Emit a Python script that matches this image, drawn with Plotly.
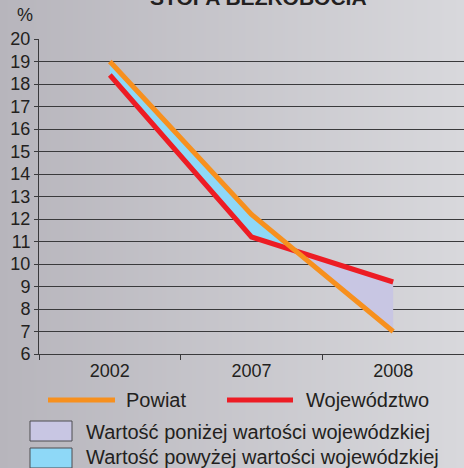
import base64, struct, zlib
import plotly.graph_objects as go

# ---- data ----
years = ["2002", "2007", "2008"]
powiat = [19.0, 12.2, 7.0]
wojewodztwo = [18.4, 11.2, 9.2]
y_ticks = list(range(6, 21))

title_text = "STOPA BEZROBOCIA"
name_powiat = "Powiat"
name_woj = "Województwo"
name_below = "Wartość poniżej wartości wojewódzkiej"
name_above = "Wartość powyżej wartości wojewódzkiej"

# ---- styling ----
W, H = 464, 468
ML, MR, MT, MB = 39, 0, 39, 114
PW, PH = W - ML - MR, H - MT - MB
C_OR = "#f7901e"
C_RED = "#ed1c24"
C_BLUE = "#8ed8f7"
C_LAV = "#c8c6e3"
C_TXT = "#231f20"
C_GRID = "#3a3a3c"
FONT = "Liberation Sans, Arial, sans-serif"


def gradient_png(w, c0, c1):
    row = bytearray([0])
    for i in range(w):
        t = i / (w - 1)
        row += bytes(int(round(a + (b - a) * t)) for a, b in zip(c0, c1))
    def chunk(tag, data):
        c = struct.pack(">I", len(data)) + tag + data
        return c + struct.pack(">I", zlib.crc32(tag + data) & 0xFFFFFFFF)
    png = b"\x89PNG\r\n\x1a\n"
    png += chunk(b"IHDR", struct.pack(">IIBBBBB", w, 1, 8, 2, 0, 0, 0))
    png += chunk(b"IDAT", zlib.compress(bytes(row)))
    png += chunk(b"IEND", b"")
    return "data:image/png;base64," + base64.b64encode(png).decode()


xs = list(range(len(years)))

# build fill polygons between the two lines, split at crossings
def seg_polys():
    cur_sign = None
    cur_top, cur_bot = [], []
    polys = []
    for i in range(len(xs)):
        d = powiat[i] - wojewodztwo[i]
        s = d >= 0
        if i > 0:
            dp = powiat[i - 1] - wojewodztwo[i - 1]
            if (dp >= 0) != s:
                t = dp / (dp - d)
                xc = xs[i - 1] + t * (xs[i] - xs[i - 1])
                yc = powiat[i - 1] + t * (powiat[i] - powiat[i - 1])
                cur_top.append((xc, yc)); cur_bot.append((xc, yc))
                polys.append((cur_sign, cur_top, cur_bot))
                cur_top, cur_bot = [(xc, yc)], [(xc, yc)]
        cur_sign = s
        cur_top.append((xs[i], powiat[i]))
        cur_bot.append((xs[i], wojewodztwo[i]))
    polys.append((cur_sign, cur_top, cur_bot))
    return polys

fig = go.Figure()
for sign, top, bot in seg_polys():
    pts = top + bot[::-1]
    fig.add_trace(go.Scatter(
        x=[p[0] for p in pts] + [pts[0][0]], y=[p[1] for p in pts] + [pts[0][1]],
        mode="lines", fill="toself", fillcolor=C_BLUE if sign else C_LAV,
        line=dict(width=0), hoverinfo="skip", showlegend=False))

fig.add_trace(go.Scatter(x=xs, y=wojewodztwo, mode="lines",
                         line=dict(color=C_RED, width=5), showlegend=False))
fig.add_trace(go.Scatter(x=xs, y=powiat, mode="lines",
                         line=dict(color=C_OR, width=5), showlegend=False))

def px_x(p):
    return (p - ML) / PW
def px_y(p):
    return 1 - (p - MT) / PH

shapes = []
ann = []
# title (partly cut at top)
ann.append(dict(text="<b>" + title_text + "</b>", x=px_x(258), y=px_y(11),
                xref="paper", yref="paper", xanchor="center", yanchor="bottom",
                showarrow=False, font=dict(size=21, color=C_TXT, family=FONT)))
ann.append(dict(text="%", x=px_x(25), y=px_y(15), xref="paper", yref="paper",
                xanchor="center", yanchor="middle", showarrow=False,
                font=dict(size=18, color=C_TXT, family=FONT)))
# legend row 1
shapes.append(dict(type="line", xref="paper", yref="paper", x0=px_x(48), x1=px_x(115),
                   y0=px_y(400), y1=px_y(400), line=dict(color=C_OR, width=5)))
ann.append(dict(text=name_powiat, x=px_x(124), y=px_y(400), xref="paper", yref="paper",
                xanchor="left", yanchor="middle", showarrow=False,
                font=dict(size=20, color=C_TXT, family=FONT)))
shapes.append(dict(type="line", xref="paper", yref="paper", x0=px_x(227), x1=px_x(293),
                   y0=px_y(400), y1=px_y(400), line=dict(color=C_RED, width=5)))
ann.append(dict(text=name_woj, x=px_x(304), y=px_y(400), xref="paper", yref="paper",
                xanchor="left", yanchor="middle", showarrow=False,
                font=dict(size=20, color=C_TXT, family=FONT)))
# legend rows 2-3
for (y0, y1, col, txt, yc) in [(421, 441, C_LAV, name_below, 431.5),
                               (448, 468, C_BLUE, name_above, 457)]:
    shapes.append(dict(type="rect", xref="paper", yref="paper", x0=px_x(30), x1=px_x(72),
                       y0=px_y(y1), y1=px_y(y0), fillcolor=col,
                       line=dict(color="#4d4d50", width=1)))
    ann.append(dict(text=txt, x=px_x(84), y=px_y(yc), xref="paper", yref="paper",
                    xanchor="left", yanchor="middle", showarrow=False,
                    font=dict(size=20, color=C_TXT, family=FONT)))

fig.update_layout(
    width=W, height=H,
    margin=dict(l=ML, r=MR, t=MT, b=MB, pad=0),
    paper_bgcolor="#c8c7cc", plot_bgcolor="rgba(0,0,0,0)",
    showlegend=False,
    font=dict(family=FONT, color=C_TXT),
    shapes=shapes, annotations=ann,
    images=[dict(source=gradient_png(W, (183, 181, 188), (216, 216, 220)),
                 xref="paper", yref="paper", x=-ML / PW, y=1 + MT / PH,
                 sizex=W / PW, sizey=H / PH, sizing="stretch",
                 xanchor="left", yanchor="top", layer="below")],
    xaxis=dict(range=[-0.5, len(years) - 0.5], tickmode="array", tickvals=xs,
               ticktext=years, ticks="", showgrid=False, zeroline=False,
               showline=True, linecolor=C_GRID, linewidth=1,
               tickfont=dict(size=18, color=C_TXT, family=FONT),
               minor=dict(tickmode="array", tickvals=[x - 0.5 for x in xs] + [xs[-1] + 0.5],
                          ticks="outside", ticklen=5, tickcolor=C_GRID, tickwidth=1,
                          showgrid=False)),
    yaxis=dict(range=[6, 20], tickmode="array", tickvals=y_ticks,
               ticks="outside", ticklen=4, tickcolor=C_GRID, tickwidth=1,
               showgrid=True, gridcolor=C_GRID, gridwidth=1.2,
               showline=True, linecolor=C_GRID, linewidth=1, zeroline=False,
               tickfont=dict(size=18, color=C_TXT, family=FONT)),
)

fig.write_html("out.html", config={"displayModeBar": False},
               post_script="document.body.style.margin='0';document.body.style.overflow='hidden';")
